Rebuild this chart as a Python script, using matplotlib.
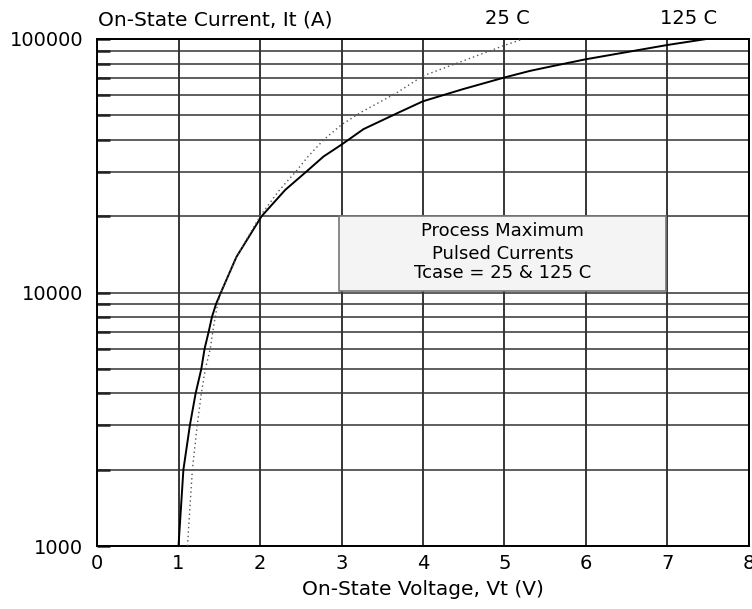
import matplotlib
matplotlib.use('Agg')
import matplotlib.pyplot as plt
from matplotlib.patches import Rectangle
from matplotlib.ticker import FixedLocator, NullFormatter

plt.rcParams['font.family'] = ['DejaVu Sans']

# 125 C curve (solid)
vt_125 = [1.00, 1.06, 1.14, 1.21, 1.28, 1.32, 1.37, 1.41, 1.46, 1.52, 1.71, 2.02,
          2.31, 2.57, 2.78, 3.00, 3.27, 3.68, 4.00, 4.49, 5.00, 5.31, 5.56, 6.00,
          7.00, 7.48]
it_125 = [1000, 2000, 3000, 4000, 5000, 6000, 7000, 8000, 9000, 10000, 13800, 20000,
          25400, 30000, 34400, 38300, 44100, 50900, 56800, 63400, 70500, 74800, 77800, 83200,
          94700, 100000]

# 25 C curve (dotted)
vt_25 = [1.11, 1.17, 1.23, 1.28, 1.33, 1.39, 1.42, 1.45, 1.48, 1.52, 1.71, 2.00,
         2.24, 2.44, 2.59, 2.78, 3.00, 3.24, 3.68, 4.00, 4.49, 5.00, 5.23]
it_25 = [1000, 2000, 3000, 4000, 5000, 6000, 7000, 8000, 9000, 10000, 13800, 20000,
         25400, 30000, 34400, 40000, 45900, 51400, 61400, 71500, 81900, 94400, 100000]

x_ticks = [0, 1, 2, 3, 4, 5, 6, 7, 8]
y_major = [1000, 10000, 100000]
y_labels = ['1000', '10000', '100000']
y_grid = [m * 10**e for e in (3, 4) for m in range(1, 10)] + [100000]
box_lines = ['Process Maximum', 'Pulsed Currents', 'Tcase = 25 & 125 C']

fig = plt.figure(figsize=(7.52, 6.09), dpi=100)
ax = fig.add_axes([0.129, 0.1034, 0.867, 0.8326])
ax.set_yscale('log')
ax.set_xlim(0, 8)
ax.set_ylim(1000, 100000)

# grid
for x in x_ticks:
    ax.axvline(x, color='black', lw=1.1, zorder=1)
for y in y_grid:
    ax.axhline(y, color='#333333', lw=1.1, zorder=1)

# curves
ax.plot(vt_125, it_125, color='black', lw=1.4, zorder=3)
ax.plot(vt_25, it_25, color='#555555', lw=1.0, linestyle=(0, (1, 2.2)), zorder=3)

# ticks
ax.xaxis.set_major_locator(FixedLocator(x_ticks))
ax.yaxis.set_major_locator(FixedLocator(y_major))
ax.yaxis.set_minor_locator(FixedLocator(y_grid))
ax.yaxis.set_minor_formatter(NullFormatter())
ax.set_yticklabels(y_labels)
ax.tick_params(axis='both', which='both', direction='in', length=0, labelsize=14)
ax.tick_params(axis='y', which='both', length=9, width=1.8, color='#222222', pad=10)
ax.tick_params(axis='x', pad=6)
for s in ax.spines.values():
    s.set_linewidth(1.4)

# annotation box
ax.add_patch(Rectangle((2.97, 10100), 4.01, 9900, facecolor='#f4f4f4',
                       edgecolor='#777777', lw=1.2, zorder=2))
for txt, yv in zip(box_lines, [17500, 14200, 11900]):
    ax.text(4.975, yv, txt, ha='center', va='center', fontsize=13, zorder=4)

# labels
fig.text(98 / 752, 1 - 20 / 609, 'On-State Current, It (A)', ha='left', va='center', fontsize=14.5)
fig.text(507 / 752, 1 - 18 / 609, '25 C', ha='center', va='center', fontsize=14)
fig.text(689 / 752, 1 - 18 / 609, '125 C', ha='center', va='center', fontsize=14)
ax.set_xlabel('On-State Voltage, Vt (V)', fontsize=14.5, labelpad=5)

fig.savefig('out.png', dpi=100)
